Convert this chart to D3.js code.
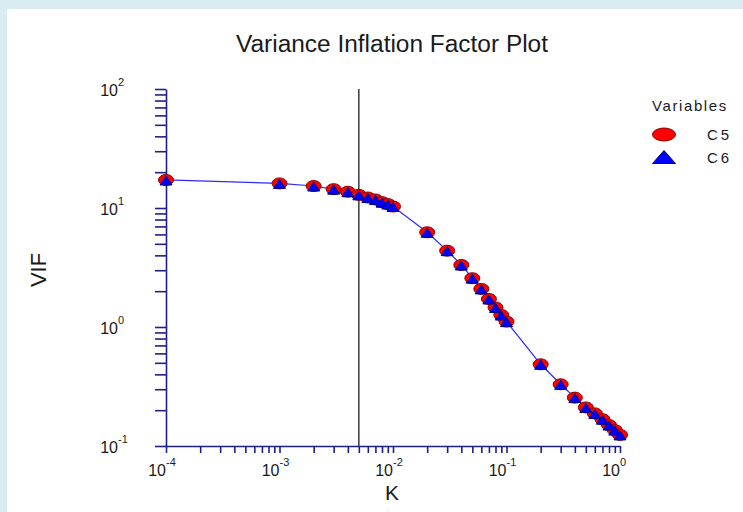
<!DOCTYPE html>
<html><head><meta charset="utf-8">
<script src="https://cdn.jsdelivr.net/npm/d3@7"></script>
<style>
html,body{margin:0;padding:0;background:#d8ecf2;}
svg{display:block;}
text{font-family:"Liberation Sans",Arial,sans-serif;fill:#1a1a1a;}
</style></head>
<body>
<svg id="chart" width="743" height="512"></svg>
<script>
// ---- data ----
const kValues = [0.0001, 0.001, 0.002, 0.003, 0.004, 0.005, 0.006, 0.007, 0.008, 0.009, 0.01,
  0.02, 0.03, 0.04, 0.05, 0.06, 0.07, 0.08, 0.09, 0.1,
  0.2, 0.3, 0.4, 0.5, 0.6, 0.7, 0.8, 0.9, 1.0];
const vifC5 = [17.2, 16.1, 15.3, 14.4, 13.7, 12.9, 12.25, 11.8, 11.2, 10.8, 10.3,
  6.25, 4.38, 3.32, 2.57, 2.09, 1.72, 1.46, 1.26, 1.11,
  0.486, 0.330, 0.255, 0.211, 0.188, 0.168, 0.150, 0.136, 0.124];
const vifC6 = [17.2, 16.1, 15.3, 14.4, 13.7, 12.9, 12.25, 11.8, 11.2, 10.8, 10.3,
  6.25, 4.38, 3.32, 2.57, 2.09, 1.72, 1.46, 1.26, 1.11,
  0.486, 0.330, 0.255, 0.211, 0.188, 0.168, 0.150, 0.136, 0.124];
const xTickExps = [-4, -3, -2, -1, 0];
const yTickExps = [-1, 0, 1, 2];
const refK = 0.005;
const seriesNames = ["C5", "C6"];
const legendTitle = "Variables";
const titleText = "Variance Inflation Factor Plot";
const xLabel = "K";
const yLabel = "VIF";

// ---- drawing ----
const svg = d3.select("#chart");
const axisColor = "#1f1f8a";

svg.append("rect").attr("x", 7).attr("y", 9).attr("width", 736).attr("height", 503).attr("fill", "#ffffff");

const x = d3.scaleLog().domain([1e-4, 1]).range([166, 620]);
const y = d3.scaleLog().domain([0.1, 100]).range([446, 89]);

// title & labels
svg.append("text").attr("x", 392).attr("y", 52).attr("text-anchor", "middle")
  .attr("font-size", 23).attr("textLength", 312).attr("lengthAdjust", "spacingAndGlyphs").text(titleText);
svg.append("text").attr("x", 392).attr("y", 500).attr("text-anchor", "middle")
  .attr("font-size", 21).text(xLabel);
svg.append("text").attr("transform", "translate(46,270) rotate(-90)").attr("text-anchor", "middle")
  .attr("font-size", 22).text(yLabel);

// axes
const xTicks = x.ticks();
const yTicks = y.ticks();
const gx = svg.append("g").attr("transform", "translate(0,446)")
  .call(d3.axisBottom(x).tickValues(xTicks).tickSize(7).tickSizeOuter(0).tickFormat(""));
const gy = svg.append("g").attr("transform", "translate(166,0)")
  .call(d3.axisLeft(y).tickValues(yTicks).tickSize(11).tickSizeOuter(0).tickFormat(""));
[gx, gy].forEach(g => {
  g.selectAll("path,line").attr("stroke", axisColor).attr("stroke-width", 1.6);
});

// tick labels
xTickExps.forEach(e => {
  const px = x(Math.pow(10, e));
  svg.append("text").attr("x", px).attr("y", 476).attr("text-anchor", "end")
    .attr("font-size", 16).text("10");
  svg.append("text").attr("x", px).attr("y", 466).attr("text-anchor", "start")
    .attr("font-size", 11).text(String(e));
});
yTickExps.forEach(e => {
  const py = y(Math.pow(10, e));
  svg.append("text").attr("x", 118).attr("y", py + 6.5).attr("text-anchor", "end")
    .attr("font-size", 16).text("10");
  svg.append("text").attr("x", 118).attr("y", py - 3).attr("text-anchor", "start")
    .attr("font-size", 11).text(String(e));
});

// reference line
svg.append("line").attr("x1", x(refK)).attr("x2", x(refK)).attr("y1", 89).attr("y2", 446)
  .attr("stroke", "#3a3a3a").attr("stroke-width", 1.5);

// data line
const line = d3.line().x((d, i) => x(kValues[i])).y(d => y(d));
svg.append("path").datum(vifC6).attr("d", line).attr("fill", "none")
  .attr("stroke", "#2a2aff").attr("stroke-width", 1.2);

// markers
const triPath = (cx, cy, w, h) => `M${cx - w / 2},${cy + h / 2}L${cx},${cy - h / 2}L${cx + w / 2},${cy + h / 2}Z`;
svg.append("g").selectAll("ellipse").data(vifC5).join("ellipse")
  .attr("cx", (d, i) => x(kValues[i])).attr("cy", d => y(d))
  .attr("rx", 7.5).attr("ry", 5.5).attr("fill", "#ff0000").attr("stroke", "#8a0000").attr("stroke-width", 1);
svg.append("g").selectAll("path").data(vifC6).join("path")
  .attr("d", (d, i) => triPath(x(kValues[i]), y(d) + 0.5, 12, 9))
  .attr("fill", "#0000ff").attr("stroke", "#000080").attr("stroke-width", 1);

// legend
svg.append("text").attr("x", 652).attr("y", 111).attr("font-size", 15).attr("letter-spacing", 1.6).text(legendTitle);
svg.append("ellipse").attr("cx", 664).attr("cy", 134.5).attr("rx", 11.5).attr("ry", 6.5)
  .attr("fill", "#ff0000").attr("stroke", "#8a0000").attr("stroke-width", 1);
svg.append("path").attr("d", triPath(664, 157, 23, 13))
  .attr("fill", "#0000ff").attr("stroke", "#000080").attr("stroke-width", 1);
svg.append("text").attr("x", 707).attr("y", 140).attr("font-size", 15).attr("letter-spacing", 3).text(seriesNames[0]);
svg.append("text").attr("x", 707).attr("y", 163).attr("font-size", 15).attr("letter-spacing", 3).text(seriesNames[1]);
</script>
</body></html>
